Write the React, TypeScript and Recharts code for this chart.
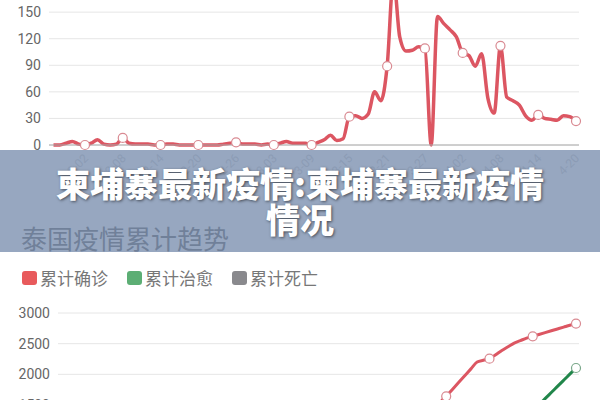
import { LineChart, Line, XAxis, YAxis, CartesianGrid } from 'recharts';

// Jan 28 to Apr 20
const dates = [
  '1-28', '1-29', '1-30', '1-31', '2-01', '2-02', '2-03', '2-04', '2-05', '2-06',
  '2-07', '2-08', '2-09', '2-10', '2-11', '2-12', '2-13', '2-14', '2-15', '2-16',
  '2-17', '2-18', '2-19', '2-20', '2-21', '2-22', '2-23', '2-24', '2-25', '2-26',
  '2-27', '2-28', '2-29', '3-01', '3-02', '3-03', '3-04', '3-05', '3-06', '3-07',
  '3-08', '3-09', '3-10', '3-11', '3-12', '3-13', '3-14', '3-15', '3-16', '3-17',
  '3-18', '3-19', '3-20', '3-21', '3-22', '3-23', '3-24', '3-25', '3-26', '3-27',
  '3-28', '3-29', '3-30', '3-31', '4-01', '4-02', '4-03', '4-04', '4-05', '4-06',
  '4-07', '4-08', '4-09', '4-10', '4-11', '4-12', '4-13', '4-14', '4-15', '4-16',
  '4-17', '4-18', '4-19', '4-20',
];

const dailyNew = [
  0, 0, 2, 4, 1, 0, 2, 6, 1, 0,
  1, 8, 2, 1, 1, 1, 0, 0, 1, 1,
  0, 0, 0, 0, 0, 0, 0, 1, 2, 3,
  1, 1, 1, 0, 1, 0, 2, 4, 2, 2,
  2, 0, 3, 6, 11, 5, 7, 32, 33, 30,
  35, 60, 50, 89, 188, 122, 106, 107, 111, 109,
  0, 145, 137, 130, 122, 104, 101, 89, 103, 53,
  36, 112, 54, 50, 45, 33, 28, 34, 30, 29,
  28, 33, 32, 27,
];

const totalConfirmed = [
  14, 14, 14, 19, 19, 19, 19, 25, 25, 25,
  25, 32, 32, 33, 33, 33, 34, 34, 34, 34,
  35, 35, 35, 35, 35, 35, 35, 37, 40, 40,
  41, 42, 42, 42, 43, 43, 43, 47, 48, 50,
  50, 50, 53, 59, 70, 75, 82, 114, 147, 177,
  212, 272, 322, 411, 599, 721, 827, 934, 1045, 1136,
  1245, 1530, 1641, 1753, 1865, 1977, 2089, 2200, 2230, 2256,
  2320, 2390, 2450, 2510, 2550, 2590, 2620, 2650, 2680, 2710,
  2740, 2770, 2800, 2827,
];

const totalCured = [
  5, 5, 5, 5, 5, 5, 5, 5, 5, 5,
  5, 9, 9, 10, 10, 10, 12, 14, 14, 14,
  14, 15, 15, 17, 17, 18, 21, 21, 22, 22,
  24, 28, 28, 28, 31, 31, 31, 31, 31, 31,
  31, 33, 33, 33, 35, 35, 35, 35, 35, 35,
  41, 42, 42, 42, 42, 44, 52, 57, 57, 79,
  97, 116, 270, 340, 400, 500, 610, 700, 750, 793,
  888, 940, 1013, 1135, 1218, 1358, 1405, 1503, 1603, 1703,
  1803, 1903, 2003, 2103,
];

const totalDeaths = [
  0, 0, 0, 0, 0, 0, 0, 0, 0, 0,
  0, 0, 0, 0, 0, 0, 0, 0, 0, 0,
  0, 0, 0, 0, 0, 0, 0, 0, 0, 0,
  0, 0, 0, 1, 1, 1, 1, 1, 1, 1,
  1, 1, 1, 1, 1, 1, 1, 1, 1, 1,
  1, 1, 1, 1, 1, 1, 1, 1, 3, 4,
  5, 6, 9, 10, 12, 15, 19, 19, 20, 26,
  27, 30, 32, 33, 35, 38, 40, 41, 43, 46,
  46, 47, 47, 47,
];

const dailyTicks = [0, 30, 60, 90, 120, 150, 180, 210];
const totalTicks = [0, 500, 1000, 1500, 2000, 2500, 3000];

const series = [
  { key: 'confirmed', name: '累计确诊', color: '#dc5662', swatch: '#e85a5c', dotStroke: '#d98a92' },
  { key: 'cured', name: '累计治愈', color: '#21864a', swatch: '#5cae74', dotStroke: '#7aa88a' },
  { key: 'deaths', name: '累计死亡', color: '#88888c', swatch: '#89898d', dotStroke: '#aaaaaa' },
];

const dailyRows = dates.map((date, i) => ({ date, value: dailyNew[i] }));
const totalRows = dates.map((date, i) => ({
  date,
  confirmed: totalConfirmed[i],
  cured: totalCured[i],
  deaths: totalDeaths[i],
}));

const axisFont = 'Roboto, "Noto Sans CJK SC", sans-serif';

// date labels sit under the banner, only every 6th day is labelled
function DayTick(props: any) {
  const { x, y, payload, index } = props;
  if (index % 6 !== 5) return <g />;
  const ax = x + 4;
  const ay = y + 6;
  return (
    <text
      x={ax}
      y={ay}
      transform={`rotate(-45 ${ax} ${ay})`}
      textAnchor="end"
      fontSize={12}
      fontFamily={axisFont}
      fill="#d0d0d0"
    >
      {payload.value}
    </text>
  );
}

function makeDot(every: number, offset: number, stroke: string) {
  return (props: any) => {
    const { cx, cy, index } = props;
    if (index % every !== offset || cy == null) return <g key={`d${index}`} />;
    return (
      <circle
        key={`d${index}`}
        cx={cx}
        cy={cy}
        r={4.5}
        fill="#fff"
        stroke={stroke}
        strokeWidth={1.2}
      />
    );
  };
}

export default function App() {
  return (
    <div
      style={{
        position: 'absolute',
        left: 0,
        top: 0,
        width: 600,
        height: 400,
        overflow: 'hidden',
        background: '#fff',
        fontFamily: axisFont,
      }}
    >
      <div style={{ position: 'absolute', left: 0, top: -41 }}>
        <LineChart
          width={600}
          height={236}
          data={dailyRows}
          margin={{ top: 0, right: 21, bottom: 0, left: 0 }}
        >
          <CartesianGrid vertical={false} stroke="#e6e6e6" />
          <XAxis
            dataKey="date"
            interval={0}
            height={50}
            padding={{ left: 4.5, right: 3 }}
            axisLine={{ stroke: '#aaa' }}
            tickLine={false}
            tick={<DayTick />}
          />
          <YAxis
            width={49}
            domain={[0, 210]}
            ticks={dailyTicks}
            axisLine={false}
            tickLine={false}
            tick={{ fontSize: 14, fill: '#666', fontFamily: axisFont }}
          />
          <Line
            type="monotone"
            dataKey="value"
            stroke="#dc5662"
            strokeWidth={3.5}
            dot={makeDot(6, 5, '#d98a92')}
            activeDot={false}
            isAnimationActive={false}
          />
        </LineChart>
      </div>

      <div
        style={{
          position: 'absolute',
          left: 21,
          top: 224,
          fontSize: 26,
          lineHeight: '28px',
          color: '#666',
          fontFamily: '"Noto Sans CJK SC", sans-serif',
        }}
      >
        泰国疫情累计趋势
      </div>

      <div
        style={{
          position: 'absolute',
          left: 22,
          top: 268,
          display: 'flex',
          alignItems: 'center',
          fontFamily: '"Noto Sans CJK SC", sans-serif',
        }}
      >
        {series.map((s) => (
          <div key={s.key} style={{ display: 'flex', alignItems: 'center', marginRight: 19 }}>
            <span
              style={{
                display: 'inline-block',
                width: 15,
                height: 14,
                borderRadius: 3,
                background: s.swatch,
                marginRight: 3,
              }}
            />
            <span style={{ fontSize: 17, lineHeight: '20px', color: '#777' }}>{s.name}</span>
          </div>
        ))}
      </div>

      <div style={{ position: 'absolute', left: 0, top: 302.7 }}>
        <LineChart
          width={600}
          height={224}
          data={totalRows}
          margin={{ top: 10, right: 21, bottom: 0, left: 0 }}
        >
          <CartesianGrid vertical={false} stroke="#e6e6e6" />
          <XAxis
            dataKey="date"
            height={30}
            padding={{ left: 5, right: 3 }}
            axisLine={false}
            tickLine={false}
            tick={false}
          />
          <YAxis
            width={58}
            domain={[0, 3000]}
            ticks={totalTicks}
            axisLine={false}
            tickLine={false}
            tick={{ fontSize: 14, fill: '#666', fontFamily: axisFont }}
          />
          {series.map((s) => (
            <Line
              key={s.key}
              type="monotone"
              dataKey={s.key}
              name={s.name}
              stroke={s.color}
              strokeWidth={3}
              dot={makeDot(7, 6, s.dotStroke)}
              activeDot={false}
              isAnimationActive={false}
            />
          ))}
        </LineChart>
      </div>

      <div
        style={{
          position: 'absolute',
          left: 0,
          top: 150,
          width: 600,
          height: 102,
          background: 'rgba(116, 138, 171, 0.75)',
          display: 'flex',
          alignItems: 'center',
          justifyContent: 'center',
          textAlign: 'center',
          color: '#fff',
          fontSize: 34,
          lineHeight: '36px',
          fontWeight: 900,
          fontFamily: '"Noto Sans CJK SC", sans-serif',
          textShadow: '1px 1px 3px rgba(0,0,0,0.55)',
        }}
      >
        <div>
          柬埔寨最新疫情:柬埔寨最新疫情
          <br />
          情况
        </div>
      </div>
    </div>
  );
}
